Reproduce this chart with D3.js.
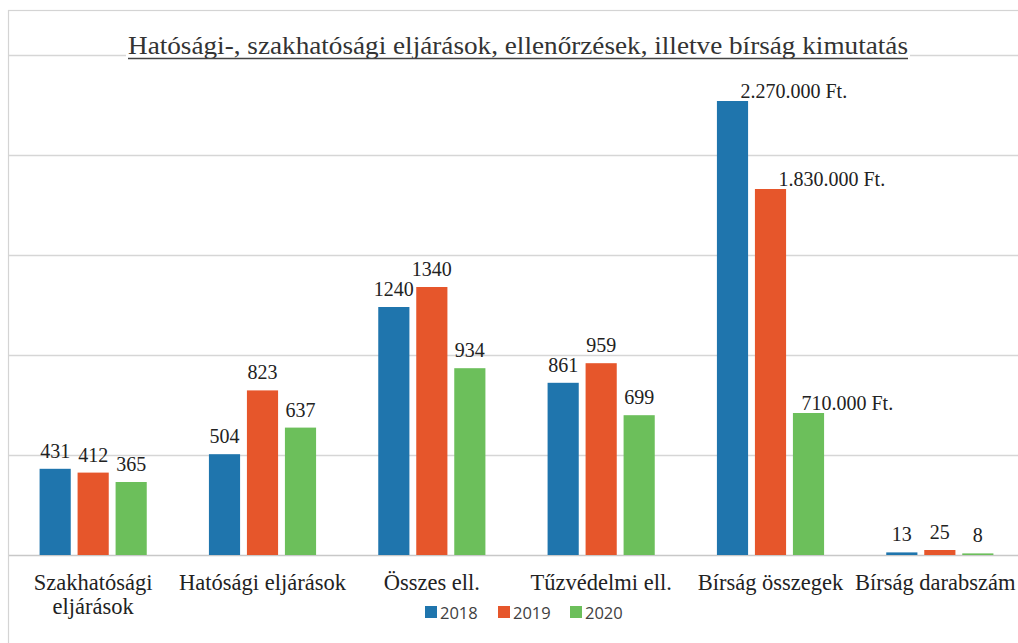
<!DOCTYPE html>
<html>
<head>
<meta charset="utf-8">
<script src="https://cdn.jsdelivr.net/npm/d3@7"></script>
<style>
  html, body { margin: 0; padding: 0; background: #fff; }
  svg { display: block; }
</style>
</head>
<body>
<svg id="chart" width="1018" height="643"></svg>
<script>
// ---- data ----
const titleText = "Hatósági-, szakhatósági eljárások, ellenőrzések, illetve bírság kimutatás";
const categories = [
  ["Szakhatósági", "eljárások"],
  ["Hatósági eljárások"],
  ["Összes ell."],
  ["Tűzvédelmi ell."],
  ["Bírság összegek"],
  ["Bírság darabszám"]
];
const years = ["2018", "2019", "2020"];
const values2018 = [431, 504, 1240, 861, 2270, 13];   // Bírság összegek in thousand Ft
const values2019 = [412, 823, 1340, 959, 1830, 25];
const values2020 = [365, 637, 934, 699, 710, 8];
const moneyCategory = 4;          // index of the category shown in Ft
const yTicks = [0, 500, 1000, 1500, 2000, 2500];

// ---- layout ----
const colors = { "2018": "#1f75ad", "2019": "#e6562b", "2020": "#6cbf5b" };
const serif = "Liberation Serif";
const sans = "Open Sans";
const moneyLabelDx = [8, 8, -7];
const W = 1018;

const svg = d3.select("#chart");
const series = [values2018, values2019, values2020];
const catIdx = categories.map((c, i) => i);

const y = d3.scaleLinear().domain([0, 2500]).range([555, 55]);
const x0 = d3.scaleBand().domain(catIdx).range([8.5, 1024.5]).padding(0);
const x1 = d3.scaleBand().domain(years).range([-57, 57]).paddingInner(0.18).paddingOuter(0.09);

// frame
svg.append("rect").attr("x", 8.5).attr("y", 10.5).attr("width", 1100).attr("height", 700)
  .attr("fill", "none").attr("stroke", "#d4d4d4").attr("stroke-width", 1.2);

// gridlines
svg.append("g").selectAll("line").data(yTicks).join("line")
  .attr("x1", 9).attr("x2", W)
  .attr("y1", d => Math.round(y(d)) + 0.5).attr("y2", d => Math.round(y(d)) + 0.5)
  .attr("stroke", d => d === 0 ? "#c8c8c8" : "#d6d6d6").attr("stroke-width", 1.3);

// title
const title = svg.append("g");
title.append("rect").attr("x", 126).attr("y", 30).attr("width", 784).attr("height", 32).attr("fill", "#fff");
title.append("text")
  .attr("x", 518).attr("y", 54).attr("text-anchor", "middle")
  .style("font-family", serif).style("font-size", "26px").attr("fill", "#333")
  .attr("textLength", 780).attr("lengthAdjust", "spacingAndGlyphs")
  .text(titleText);
title.append("line").attr("x1", 128).attr("x2", 908).attr("y1", 58.5).attr("y2", 58.5)
  .attr("stroke", "#444").attr("stroke-width", 1.4);

// bars
const groups = svg.append("g").selectAll("g").data(catIdx).join("g")
  .attr("transform", i => `translate(${x0(i) + x0.bandwidth() / 2},0)`);

const fmt = d3.formatLocale({ decimal: ",", thousands: ".", grouping: [3], currency: ["", ""] }).format(",");

groups.each(function(ci) {
  const g = d3.select(this);
  const cx = x0(ci) + x0.bandwidth() / 2;
  const items = years.map((yr, k) => ({ yr, k, v: series[k][ci] }));
  g.selectAll("rect").data(items).join("rect")
    .attr("x", d => x1(d.yr)).attr("width", x1.bandwidth())
    .attr("y", d => y(d.v)).attr("height", d => y(0) - y(d.v))
    .attr("fill", d => colors[d.yr]);
  if (ci === moneyCategory) {
    g.selectAll("text.v").data(items).join("text").attr("class", "v")
      .attr("x", d => x1(d.yr) + x1.bandwidth() / 2 + moneyLabelDx[d.k])
      .attr("y", d => y(d.v) - 3)
      .style("font-family", serif).style("font-size", "20px").attr("fill", "#222")
      .text(d => fmt(d.v * 1000) + " Ft.");
  } else {
    g.selectAll("text.v").data(items).join("text").attr("class", "v")
      .attr("x", d => x1(d.yr) + x1.bandwidth() / 2)
      .attr("y", d => y(d.v) - 11)
      .attr("text-anchor", "middle")
      .style("font-family", serif).style("font-size", "20px").attr("fill", "#222")
      .text(d => d.v);
  }
  // category label (kept inside the picture's right edge)
  const lbl = g.append("text").attr("text-anchor", "middle")
    .style("font-family", serif).style("font-size", "22.5px").attr("fill", "#222");
  categories[ci].forEach((line, li) => {
    lbl.append("tspan").attr("x", 0).attr("y", 590 + li * 24).text(line);
  });
  const bb = lbl.node().getBBox();
  const overflow = cx + bb.x + bb.width - (W - 2);
  if (overflow > 0) lbl.selectAll("tspan").attr("x", -overflow);
});

// legend
const legendX = [425, 498, 570];
const lg = svg.append("g").selectAll("g").data(years).join("g")
  .attr("transform", (d, i) => `translate(${legendX[i]},606)`);
lg.append("rect").attr("width", 12).attr("height", 12).attr("fill", d => colors[d]);
lg.append("text").attr("x", 15).attr("y", 12.5)
  .style("font-family", sans).style("font-size", "16.5px").attr("fill", "#404040").text(d => d);
</script>
</body>
</html>
